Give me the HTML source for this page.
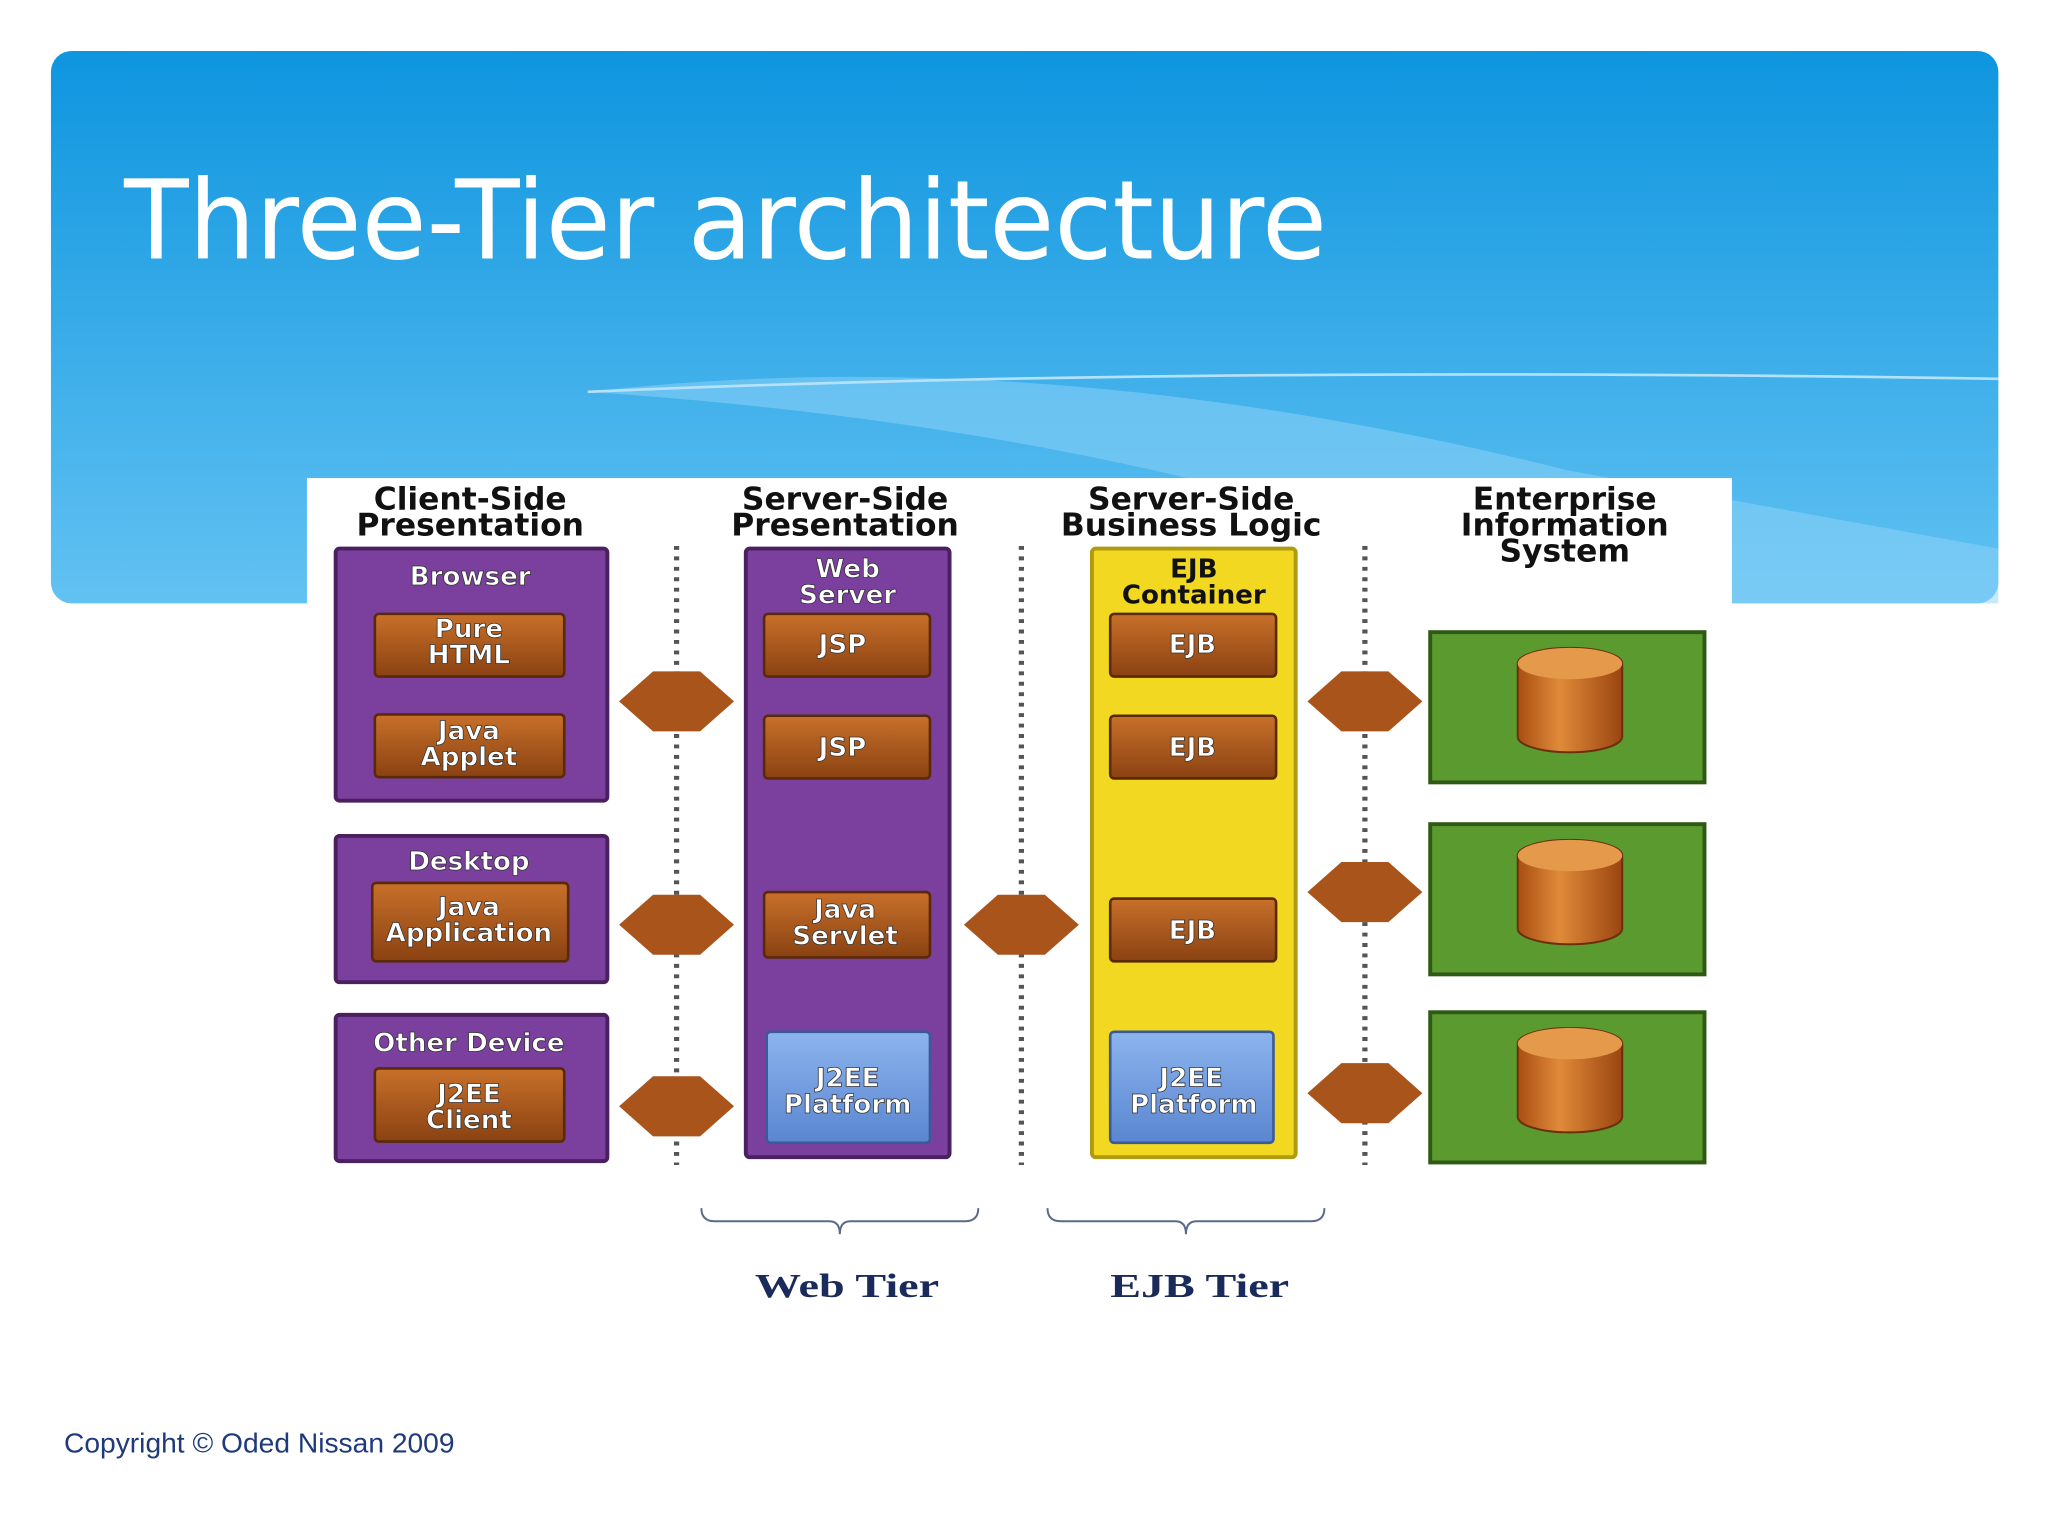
<!DOCTYPE html>
<html><head><meta charset="utf-8"><style>
html,body{margin:0;padding:0;background:#fff;width:2048px;height:1536px;overflow:hidden}
svg{display:block}
.h{font-family:"DejaVu Sans","Liberation Sans",sans-serif;font-weight:bold;font-size:24px;fill:#111;text-anchor:middle}
.w{font-family:"DejaVu Sans","Liberation Sans",sans-serif;font-weight:bold;font-size:20px;fill:#fff;text-anchor:middle;stroke:#333;stroke-width:0.6}
</style></head><body>
<svg width="2048" height="1536" viewBox="0 0 1568 1176" xmlns="http://www.w3.org/2000/svg">
<defs>
<linearGradient id="bg" x1="0" y1="0" x2="0" y2="1"><stop offset="0" stop-color="#0e95df"/><stop offset="1" stop-color="#62c2f2"/></linearGradient>
<linearGradient id="or" x1="0" y1="0" x2="0" y2="1"><stop offset="0" stop-color="#c8702a"/><stop offset="1" stop-color="#8a4212"/></linearGradient>
<linearGradient id="bl" x1="0" y1="0" x2="0" y2="1"><stop offset="0" stop-color="#8cb4ee"/><stop offset="1" stop-color="#5a86d0"/></linearGradient>
<linearGradient id="cy" x1="0" y1="0" x2="1" y2="0"><stop offset="0" stop-color="#a84e12"/><stop offset="0.4" stop-color="#e08a3a"/><stop offset="1" stop-color="#9a4510"/></linearGradient>
</defs>
<rect x="39" y="39" width="1491" height="423" rx="16" fill="url(#bg)"/>
<path d="M450 300 Q800 260 1200 360 L1530 420 L1530 462 L1200 462 Q900 330 450 300Z" fill="#8fd3f7" opacity="0.5"/>
<path d="M450 300 Q900 280 1530 290" stroke="#b5e2fa" stroke-width="2" fill="none"/>
<text x="95" y="198" font-family="'DejaVu Sans','Liberation Sans',sans-serif" font-size="84" fill="#fff" textLength="921" lengthAdjust="spacingAndGlyphs">Three-Tier architecture</text>
<rect x="235" y="366" width="1091" height="650" fill="#fff"/>
<g class="h">
<text x="360" y="390">Client-Side</text><text x="360" y="410">Presentation</text>
<text x="647" y="390">Server-Side</text><text x="647" y="410">Presentation</text>
<text x="912" y="390">Server-Side</text><text x="912" y="410">Business Logic</text>
<text x="1198" y="390">Enterprise</text><text x="1198" y="410">Information</text><text x="1198" y="430">System</text>
</g>
<g stroke="#555" stroke-width="4" stroke-dasharray="3,5">
<line x1="518" y1="418" x2="518" y2="892"/><line x1="782" y1="418" x2="782" y2="892"/><line x1="1045" y1="418" x2="1045" y2="892"/>
</g>
<g fill="#7b3f9e" stroke="#4a2060" stroke-width="3">
<rect x="257" y="420" width="208" height="193" rx="3"/><rect x="257" y="640" width="208" height="112" rx="3"/><rect x="257" y="777" width="208" height="112" rx="3"/>
<rect x="571" y="420" width="156" height="466" rx="3"/>
</g>
<rect x="836" y="420" width="156" height="466" rx="3" fill="#f2d820" stroke="#b09a10" stroke-width="3"/>
<g fill="url(#or)" stroke="#5a2a08" stroke-width="2">
<rect x="287" y="470" width="145" height="48" rx="3"/><rect x="287" y="547" width="145" height="48" rx="3"/>
<rect x="285" y="676" width="150" height="60" rx="3"/><rect x="287" y="818" width="145" height="56" rx="3"/>
<rect x="585" y="470" width="127" height="48" rx="3"/><rect x="585" y="548" width="127" height="48" rx="3"/><rect x="585" y="683" width="127" height="50" rx="3"/>
<rect x="850" y="470" width="127" height="48" rx="3"/><rect x="850" y="548" width="127" height="48" rx="3"/><rect x="850" y="688" width="127" height="48" rx="3"/>
</g>
<g fill="url(#bl)" stroke="#3a5a9a" stroke-width="2">
<rect x="587" y="790" width="125" height="85" rx="3"/><rect x="850" y="790" width="125" height="85" rx="3"/>
</g>
<g class="w">
<text x="360" y="448">Browser</text><text x="359" y="488">Pure</text><text x="359" y="508">HTML</text>
<text x="359" y="566">Java</text><text x="359" y="586">Applet</text>
<text x="359" y="666">Desktop</text><text x="359" y="701">Java</text><text x="359" y="721">Application</text>
<text x="359" y="805">Other Device</text><text x="359" y="844">J2EE</text><text x="359" y="864">Client</text>
<text x="649" y="442">Web</text><text x="649" y="462">Server</text>
<text x="645" y="500">JSP</text><text x="645" y="579">JSP</text><text x="647" y="703">Java</text><text x="647" y="723">Servlet</text>
<text x="649" y="832">J2EE</text><text x="649" y="852">Platform</text>
<text x="914" y="852">Platform</text><text x="912" y="832">J2EE</text>
<text x="913" y="500">EJB</text><text x="913" y="579">EJB</text><text x="913" y="719">EJB</text>
</g>
<g class="h" style="font-size:20px"><text x="914" y="442">EJB</text><text x="914" y="462">Container</text></g>
<g fill="#a8541b">
<polygon points="474,537 500,514 536,514 562,537 536,560 500,560"/>
<polygon points="474,708 500,685 536,685 562,708 536,731 500,731"/>
<polygon points="474,847 500,824 536,824 562,847 536,870 500,870"/>
<polygon points="738,708 764,685 800,685 826,708 800,731 764,731"/>
<polygon points="1001,537 1027,514 1063,514 1089,537 1063,560 1027,560"/>
<polygon points="1001,683 1027,660 1063,660 1089,683 1063,706 1027,706"/>
<polygon points="1001,837 1027,814 1063,814 1089,837 1063,860 1027,860"/>
</g>
<g>
<rect x="1095" y="484" width="210" height="115" fill="#5a9a2e" stroke="#2e5a14" stroke-width="3"/>
<rect x="1095" y="631" width="210" height="115" fill="#5a9a2e" stroke="#2e5a14" stroke-width="3"/>
<rect x="1095" y="775" width="210" height="115" fill="#5a9a2e" stroke="#2e5a14" stroke-width="3"/>
</g>
<g fill="url(#cy)" stroke="#6a2e08" stroke-width="1.5">
<path d="M1162 508 v56 a40 12 0 0 0 80 0 v-56 a40 12 0 0 0 -80 0z"/>
<path d="M1162 655 v56 a40 12 0 0 0 80 0 v-56 a40 12 0 0 0 -80 0z"/>
<path d="M1162 799 v56 a40 12 0 0 0 80 0 v-56 a40 12 0 0 0 -80 0z"/>
</g>
<g fill="#e49a4a"><ellipse cx="1202" cy="508" rx="40" ry="12"/><ellipse cx="1202" cy="655" rx="40" ry="12"/><ellipse cx="1202" cy="799" rx="40" ry="12"/></g>
<g stroke="#5a6a8a" stroke-width="1.5" fill="none">
<path d="M537 925 q0 10 10 10 h88 q8 0 8 10 q0 -10 8 -10 h88 q10 0 10 -10"/>
<path d="M802 925 q0 10 10 10 h88 q8 0 8 10 q0 -10 8 -10 h88 q10 0 10 -10"/>
</g>
<g font-family="'Liberation Serif',serif" font-weight="bold" font-size="26" fill="#1a2a5a">
<text x="578" y="993" textLength="141" lengthAdjust="spacingAndGlyphs">Web Tier</text><text x="850" y="993" textLength="137" lengthAdjust="spacingAndGlyphs">EJB Tier</text>
</g>
<text x="49" y="1112" font-family="'Liberation Sans',sans-serif" font-size="21" fill="#1f3a7a" textLength="299" lengthAdjust="spacingAndGlyphs">Copyright © Oded Nissan 2009</text>
</svg>
</body></html>
